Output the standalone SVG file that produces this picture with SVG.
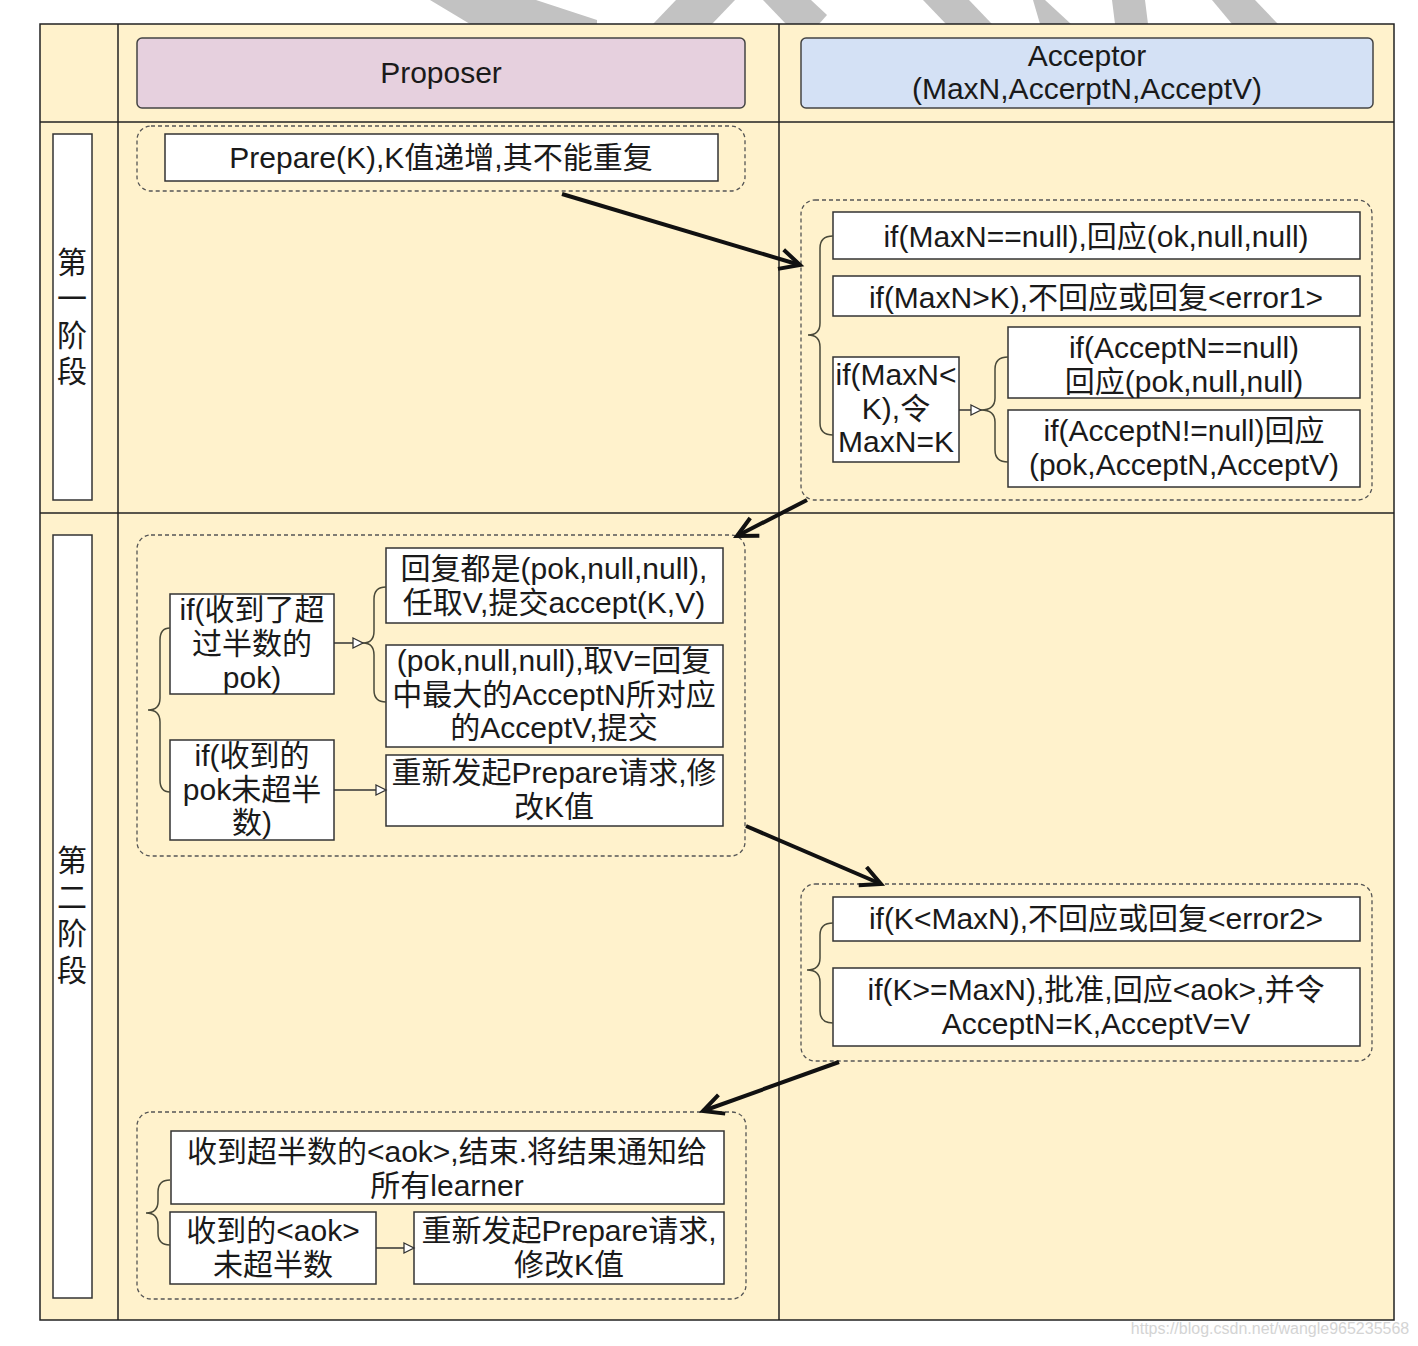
<svg xmlns="http://www.w3.org/2000/svg" width="1418" height="1346" viewBox="0 0 1418 1346">
<defs>
<style>
.t{font-family:"Liberation Sans","Noto Sans CJK SC",sans-serif;font-size:30px;fill:#1a1a1a;text-anchor:middle}
.box{fill:#ffffff;stroke:#333333;stroke-width:1.5}
.dash{fill:none;stroke:#555555;stroke-width:1.3;stroke-dasharray:4 3}
.brace{fill:none;stroke:#4a4a3a;stroke-width:1.5}
.thin{fill:none;stroke:#333333;stroke-width:1.5}
.thick{fill:none;stroke:#111111;stroke-width:4;marker-end:url(#chev)}
.wm{fill:#c2c2c2}
</style>
<marker id="chev" markerUnits="userSpaceOnUse" markerWidth="30" markerHeight="30" refX="24" refY="12" orient="auto">
<path d="M4,2 L24,12 L4,22" fill="none" stroke="#111111" stroke-width="4" stroke-linejoin="miter"/>
</marker>
<marker id="tri" markerUnits="userSpaceOnUse" markerWidth="14" markerHeight="14" refX="11" refY="6" orient="auto">
<path d="M1,1 L11,6 L1,11 Z" fill="#ffffff" stroke="#333333" stroke-width="1.3"/>
</marker>
</defs>
<rect width="1418" height="1346" fill="#ffffff"/>
<g id="watermark">
<polygon class="wm" points="430,0 536,0 597,20 597,24 470,24"/>
<polygon class="wm" points="676,0 735,0 712,24 653,24"/>
<polygon class="wm" points="763,0 811,0 827,15 819,24 786,24"/>
<polygon class="wm" points="923,0 969,0 992,24 946,24"/>
<polygon class="wm" points="1033,0 1045,0 1071,24 1040,24"/>
<polygon class="wm" points="1112,0 1145,0 1148,24 1115,24"/>
<polygon class="wm" points="1212,0 1255,0 1278,24 1232,24"/>
</g>
<g id="frame">
<rect x="40" y="24" width="1354" height="1296" fill="#FFF2CC" stroke="#222222" stroke-width="1.5"/>
<line x1="118" y1="24" x2="118" y2="1320" stroke="#222222" stroke-width="1.5"/>
<line x1="779" y1="24" x2="779" y2="1320" stroke="#222222" stroke-width="1.5"/>
<line x1="40" y1="122" x2="1394" y2="122" stroke="#222222" stroke-width="1.5"/>
<line x1="40" y1="513" x2="1394" y2="513" stroke="#222222" stroke-width="1.5"/>
</g>
<g id="header-proposer">
<rect x="137" y="38" width="608" height="70" rx="5" fill="#E6D0DE" stroke="#444444" stroke-width="1.5"/>
<text class="t" x="441" y="83">Proposer</text>
</g>
<g id="header-acceptor">
<rect x="801" y="38" width="572" height="70" rx="5" fill="#D4E1F5" stroke="#444444" stroke-width="1.5"/>
<text class="t" x="1087" y="66">Acceptor</text>
<text class="t" x="1087" y="99">(MaxN,AccerptN,AcceptV)</text>
</g>
<g id="phase1-label">
<rect x="53" y="134" width="39" height="366" class="box"/>
<text class="t" x="72" y="273">第</text>
<text class="t" x="72" y="309">一</text>
<text class="t" x="72" y="346">阶</text>
<text class="t" x="72" y="382">段</text>
</g>
<g id="phase2-label">
<rect x="53" y="535" width="39" height="763" class="box"/>
<text class="t" x="72" y="871">第</text>
<text class="t" x="72" y="908">二</text>
<text class="t" x="72" y="944">阶</text>
<text class="t" x="72" y="981">段</text>
</g>
<g id="p1-proposer-group">
<rect x="137" y="126" width="608" height="65" rx="14" class="dash"/>
</g>
<g id="p1-prepare">
<rect x="165" y="134" width="553" height="47" class="box"/>
<text class="t" x="441" y="168">Prepare(K),K值递增,其不能重复</text>
</g>
<g id="p1-acceptor-group">
<rect x="801" y="200" width="571" height="300" rx="14" class="dash"/>
</g>
<g id="p1-a1">
<rect x="833" y="212" width="527" height="47" class="box"/>
<text class="t" x="1096" y="247">if(MaxN==null),回应(ok,null,null)</text>
</g>
<g id="p1-a2">
<rect x="833" y="276" width="527" height="40" class="box"/>
<text class="t" x="1096" y="308">if(MaxN&gt;K),不回应或回复&lt;error1&gt;</text>
</g>
<g id="p1-a3">
<rect x="833" y="357" width="126" height="105" class="box"/>
<text class="t" x="896" y="385">if(MaxN&lt;</text>
<text class="t" x="896" y="419">K),令</text>
<text class="t" x="896" y="452">MaxN=K</text>
</g>
<g id="p1-a4">
<rect x="1008" y="327" width="352" height="71" class="box"/>
<text class="t" x="1184" y="358">if(AcceptN==null)</text>
<text class="t" x="1184" y="392">回应(pok,null,null)</text>
</g>
<g id="p1-a5">
<rect x="1008" y="410" width="352" height="77" class="box"/>
<text class="t" x="1184" y="441">if(AcceptN!=null)回应</text>
<text class="t" x="1184" y="475">(pok,AcceptN,AcceptV)</text>
</g>
<g id="p2-proposer-group">
<rect x="137" y="535" width="608" height="321" rx="14" class="dash"/>
</g>
<g id="p2-pa">
<rect x="170" y="594" width="164" height="100" class="box"/>
<text class="t" x="252" y="620">if(收到了超</text>
<text class="t" x="252" y="654">过半数的</text>
<text class="t" x="252" y="688">pok)</text>
</g>
<g id="p2-pb">
<rect x="170" y="740" width="164" height="100" class="box"/>
<text class="t" x="252" y="766">if(收到的</text>
<text class="t" x="252" y="800">pok未超半</text>
<text class="t" x="252" y="833">数)</text>
</g>
<g id="p2-pc">
<rect x="386" y="548" width="337" height="75" class="box"/>
<text class="t" x="554" y="579">回复都是(pok,null,null),</text>
<text class="t" x="554" y="613">任取V,提交accept(K,V)</text>
</g>
<g id="p2-pd">
<rect x="386" y="645" width="337" height="102" class="box"/>
<text class="t" x="554" y="671">(pok,null,null),取V=回复</text>
<text class="t" x="554" y="705">中最大的AcceptN所对应</text>
<text class="t" x="554" y="738">的AcceptV,提交</text>
</g>
<g id="p2-pe">
<rect x="386" y="755" width="337" height="71" class="box"/>
<text class="t" x="554" y="783">重新发起Prepare请求,修</text>
<text class="t" x="554" y="817">改K值</text>
</g>
<g id="p2-acceptor-group">
<rect x="801" y="884" width="571" height="177" rx="14" class="dash"/>
</g>
<g id="p2-af">
<rect x="833" y="897" width="527" height="44" class="box"/>
<text class="t" x="1096" y="929">if(K&lt;MaxN),不回应或回复&lt;error2&gt;</text>
</g>
<g id="p2-ag">
<rect x="833" y="968" width="527" height="78" class="box"/>
<text class="t" x="1096" y="1000">if(K&gt;=MaxN),批准,回应&lt;aok&gt;,并令</text>
<text class="t" x="1096" y="1034">AcceptN=K,AcceptV=V</text>
</g>
<g id="p3-proposer-group">
<rect x="137" y="1112" width="609" height="187" rx="14" class="dash"/>
</g>
<g id="p3-h">
<rect x="171" y="1131" width="553" height="73" class="box"/>
<text class="t" x="447" y="1162">收到超半数的&lt;aok&gt;,结束.将结果通知给</text>
<text class="t" x="447" y="1196">所有learner</text>
</g>
<g id="p3-i">
<rect x="170" y="1212" width="206" height="72" class="box"/>
<text class="t" x="273" y="1241">收到的&lt;aok&gt;</text>
<text class="t" x="273" y="1275">未超半数</text>
</g>
<g id="p3-j">
<rect x="414" y="1212" width="310" height="72" class="box"/>
<text class="t" x="569" y="1241">重新发起Prepare请求,</text>
<text class="t" x="569" y="1275">修改K值</text>
</g>
<g id="connectors">
<path class="brace" d="M833,236 Q820,236 820,248 L820,323 Q820,335 808,335 Q820,335 820,347 L820,423 Q820,435 833,435"/>
<path class="brace" d="M1008,357 Q995,357 995,369 L995,398 Q995,410 981,410 Q995,410 995,422 L995,450 Q995,462 1008,462"/>
<line class="thin" x1="959" y1="410" x2="981" y2="410" marker-end="url(#tri)"/>
<path class="brace" d="M170,628 Q160,628 160,640 L160,698 Q160,710 148,710 Q160,710 160,722 L160,780 Q160,792 170,792"/>
<path class="brace" d="M386,587 Q374,587 374,599 L374,631 Q374,643 363,643 Q374,643 374,655 L374,690 Q374,702 386,702"/>
<line class="thin" x1="334" y1="643" x2="363" y2="643" marker-end="url(#tri)"/>
<line class="thin" x1="334" y1="790" x2="386" y2="790" marker-end="url(#tri)"/>
<path class="brace" d="M833,923 Q820,923 820,935 L820,958 Q820,970 807,970 Q820,970 820,982 L820,1011 Q820,1023 833,1023"/>
<path class="brace" d="M170,1180 Q158,1180 158,1192 L158,1201 Q158,1213 146,1213 Q158,1213 158,1225 L158,1233 Q158,1245 170,1245"/>
<line class="thin" x1="376" y1="1248" x2="414" y2="1248" marker-end="url(#tri)"/>
<line class="thick" x1="562" y1="194" x2="800" y2="265"/>
<line class="thick" x1="807" y1="500" x2="737" y2="536"/>
<line class="thick" x1="746" y1="826" x2="881" y2="884"/>
<line class="thick" x1="839" y1="1062" x2="703" y2="1111"/>
</g>
<text x="1270" y="1334" style="font-family:'Liberation Sans',sans-serif;font-size:16px;fill:#d4d4d4;text-anchor:middle">https://blog.csdn.net/wangle965235568</text>
</svg>
